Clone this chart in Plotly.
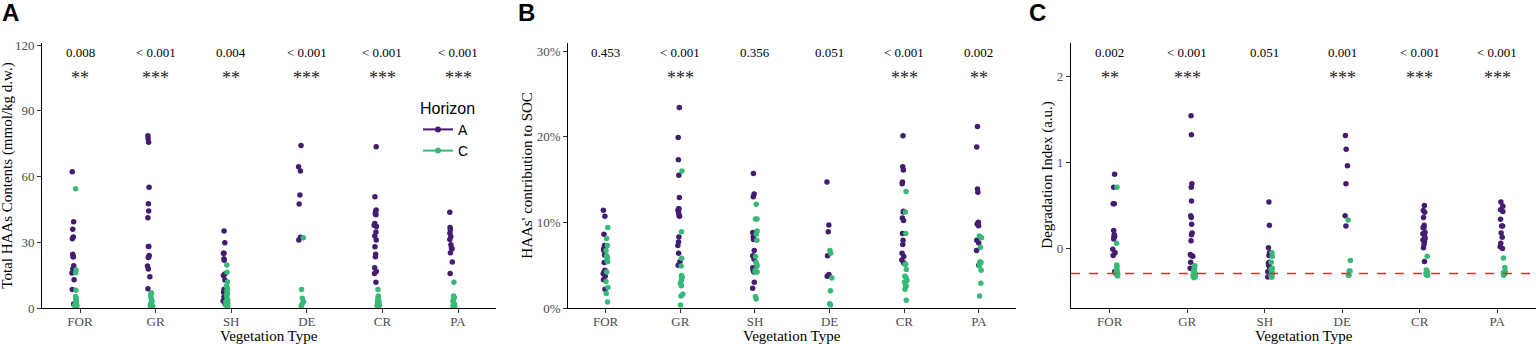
import plotly.graph_objects as go

categories = ["FOR", "GR", "SH", "DE", "CR", "PA"]

# ---------- Panel A: Total HAAs Contents (mmol/kg d.w.) ----------
haa_A_FOR = [62.2, 39.4, 35.9, 32.4, 31.6, 24.5, 23.4, 23.4, 19.3, 17.8, 16.0, 12.9, 8.4, 1.8]
haa_C_FOR = [54.4, 17.3, 16.1, 8.1, 5.2, 4.4, 4.7, 3.7, 3.0, 2.0, 1.2, 0.8, 0.8, 1.1]
haa_A_GR = [77.3, 78.6, 75.6, 55.1, 47.6, 44.3, 41.2, 28.1, 28.1, 24.0, 23.0, 23.4, 19.2, 17.8, 14.3, 8.8]
haa_C_GR = [6.7, 5.9, 6.8, 4.4, 3.7, 2.5, 3.0, 1.8, 0.8, 1.1, 1.4, 0.5]
haa_A_SH = [35.1, 29.8, 25.0, 25.0, 21.8, 22.5, 15.5, 14.8, 12.8, 7.9, 7.2, 8.5, 5.0, 3.7, 3.2, 4.0, 1.8]
haa_C_SH = [19.6, 16.3, 11.9, 10.0, 8.9, 7.9, 6.7, 5.9, 5.5, 4.1, 3.7, 3.0, 2.2, 1.8, 1.2, 1.2, 0.8]
haa_A_DE = [74.2, 64.5, 62.5, 51.6, 47.5, 32.3, 31.0]
haa_C_DE = [32.1, 8.4, 4.4, 3.0, 1.8, 0.9]
haa_A_CR = [73.6, 50.8, 44.7, 42.6, 42.9, 43.8, 38.6, 37.8, 37.2, 34.7, 32.9, 31.0, 28.0, 24.5, 23.4, 18.4, 16.7, 15.8, 11.7]
haa_C_CR = [8.4, 5.5, 4.7, 3.7, 3.0, 2.5, 1.8, 1.5, 0.8, 1.1, 0.8, 0.5]
haa_A_PA = [43.7, 36.7, 35.7, 34.1, 32.6, 31.3, 28.9, 27.0, 27.4, 25.2, 21.0, 15.8]
haa_C_PA = [11.7, 5.5, 4.7, 3.7, 3.0, 1.8, 1.5, 0.9, 0.8]
haa_ticks = [0, 30, 60, 90, 120]
haa_ticklabels = ["0", "30", "60", "90", "120"]
pval_haa = ["0.008", "< 0.001", "0.004", "< 0.001", "< 0.001", "< 0.001"]
stars_haa = ["**", "***", "**", "***", "***", "***"]

# ---------- Panel B: HAAs' contribution to SOC (%) ----------
soc_A_FOR = [11.4, 10.7, 8.6, 7.3, 6.9, 6.7, 6.2, 5.3, 4.4, 4.2, 4.0, 3.7, 3.3, 2.2]
soc_C_FOR = [9.4, 8.1, 7.3, 6.7, 6.1, 5.9, 5.6, 5.4, 4.2, 3.1, 2.4, 1.7, 0.7]
soc_A_GR = [23.4, 19.9, 17.3, 15.5, 12.9, 11.6, 11.6, 11.4, 11.1, 10.8, 10.7, 8.3, 7.7, 7.3, 6.4, 5.4, 5.0]
soc_C_GR = [16.0, 8.9, 5.8, 4.9, 3.8, 3.6, 3.6, 3.2, 2.9, 3.5, 2.6, 1.6, 1.4, 0.35]
soc_A_SH = [15.7, 13.3, 13.0, 8.8, 8.3, 8.0, 6.7, 6.1, 6.0, 6.0, 5.7, 4.7, 4.4, 4.2, 3.0, 2.3]
soc_C_SH = [12.1, 10.4, 10.4, 9.0, 8.6, 7.9, 6.0, 5.3, 5.2, 4.9, 4.4, 4.2, 4.2, 1.3, 1.05]
soc_A_DE = [14.7, 9.7, 8.9, 6.1, 3.7, 3.9]
soc_C_DE = [6.7, 6.4, 3.5, 2.0, 0.5, 0.35]
soc_A_CR = [20.1, 16.5, 16.1, 14.5, 14.7, 11.3, 11.2, 10.5, 10.2, 8.7, 7.9, 7.4, 6.4, 6.0, 5.6, 5.3, 5.2]
soc_C_CR = [13.6, 11.2, 8.7, 5.1, 5.1, 4.5, 3.7, 3.5, 3.2, 3.0, 2.6, 2.2, 2.5, 0.9]
soc_A_PA = [21.2, 18.8, 13.9, 13.5, 10.0, 9.8, 9.6, 7.9, 7.6, 6.7, 5.0]
soc_C_PA = [8.4, 8.2, 7.1, 5.4, 5.3, 5.2, 4.9, 4.4, 2.9, 1.4]
soc_ticks = [0, 10, 20, 30]
soc_ticklabels = ["0%", "10%", "20%", "30%"]
pval_soc = ["0.453", "< 0.001", "0.356", "0.051", "< 0.001", "0.002"]
stars_soc = ["", "***", "", "", "***", "**"]

# ---------- Panel C: Degradation Index (a.u.) ----------
deg_A_FOR = [0.86, 0.71, 0.52, 0.52, 0.21, 0.16, 0.14, 0.11, 0.14, -0.01, -0.05, -0.08, -0.27]
deg_C_FOR = [0.71, 0.06, -0.19, -0.21, -0.24, -0.27, -0.28, -0.27, -0.30, -0.29, -0.32]
deg_A_GR = [1.54, 1.32, 0.75, 0.71, 0.55, 0.36, 0.38, 0.28, 0.16, 0.18, 0.09, -0.07, -0.08, -0.09, -0.16, -0.23]
deg_C_GR = [-0.20, -0.23, -0.25, -0.27, -0.28, -0.29, -0.31, -0.32, -0.34, -0.33]
deg_A_SH = [0.54, 0.27, 0.01, -0.05, -0.08, -0.16, -0.19, -0.17, -0.27, -0.21, -0.33, -0.25, -0.28]
deg_C_SH = [-0.05, -0.09, -0.16, -0.23, -0.24, -0.25, -0.28, -0.29, -0.31, -0.28, -0.31, -0.33, -0.33]
deg_A_DE = [1.31, 1.15, 0.96, 0.75, 0.38, 0.26]
deg_C_DE = [0.33, -0.14, -0.26, -0.26, -0.31, -0.31]
deg_A_CR = [0.50, 0.44, 0.42, 0.36, 0.27, 0.24, 0.24, 0.19, 0.17, 0.15, 0.12, 0.10, 0.08, 0.05, 0.01, -0.15]
deg_C_CR = [-0.09, -0.25, -0.26, -0.28, -0.27, -0.29, -0.30, -0.31, -0.31]
deg_A_PA = [0.54, 0.49, 0.45, 0.43, 0.34, 0.26, 0.26, 0.18, 0.13, 0.02, 0.00, 0.06]
deg_C_PA = [-0.11, -0.22, -0.27, -0.28, -0.29, -0.29, -0.31]
deg_ticks = [0, 1, 2]
deg_ticklabels = ["0", "1", "2"]
pval_deg = ["0.002", "< 0.001", "0.051", "0.001", "< 0.001", "< 0.001"]
stars_deg = ["**", "***", "", "***", "***", "***"]
deg_reference = -0.29

# ---------- styling ----------
W, H = 1536, 344
COL_A = "#441C70"
COL_C = "#38B977"
SERIF = "Liberation Serif"
SANS = "Liberation Sans"


def px_x(p):
    return p / W


def px_y(p):
    return (H - p) / H


panels = [
    dict(series_A=[haa_A_FOR, haa_A_GR, haa_A_SH, haa_A_DE, haa_A_CR, haa_A_PA],
         series_C=[haa_C_FOR, haa_C_GR, haa_C_SH, haa_C_DE, haa_C_CR, haa_C_PA],
         pvals=pval_haa, stars=stars_haa, xdom=(42.2, 495.8), yrange=[0, 120.8],
         tickvals=haa_ticks, ticktext=haa_ticklabels,
         ytitle="Total HAAs Contents (mmol/kg d.w.)", ytitle_x=8, letter="A", letter_x=10),
    dict(series_A=[soc_A_FOR, soc_A_GR, soc_A_SH, soc_A_DE, soc_A_CR, soc_A_PA],
         series_C=[soc_C_FOR, soc_C_GR, soc_C_SH, soc_C_DE, soc_C_CR, soc_C_PA],
         pvals=pval_soc, stars=stars_soc, xdom=(568.3, 1016.3), yrange=[0, 30.9],
         tickvals=soc_ticks, ticktext=soc_ticklabels,
         ytitle="HAAs' contribution to SOC", ytitle_x=527, letter="B", letter_x=526),
    dict(series_A=[deg_A_FOR, deg_A_GR, deg_A_SH, deg_A_DE, deg_A_CR, deg_A_PA],
         series_C=[deg_C_FOR, deg_C_GR, deg_C_SH, deg_C_DE, deg_C_CR, deg_C_PA],
         pvals=pval_deg, stars=stars_deg, xdom=(1071.0, 1536.0), yrange=[-0.69, 2.38],
         tickvals=deg_ticks, ticktext=deg_ticklabels,
         ytitle="Degradation Index (a.u.)", ytitle_x=1048, letter="C", letter_x=1037),
]

fig = go.Figure()
annotations = []
layout_axes = {}
Y_TOP, Y_BOT = 43.3, 308.0


def note(x, xref, y, text, font, **kw):
    d = dict(x=x, xref=xref, y=y, yref="paper", text=text, showarrow=False,
             xanchor="center", yanchor="middle", font=font)
    d.update(kw)
    return d


for i, p in enumerate(panels):
    n = "" if i == 0 else str(i + 1)
    xa, ya = "x" + n, "y" + n
    for horizon, series, col in (("A", p["series_A"], COL_A), ("C", p["series_C"], COL_C)):
        xs, ys = [], []
        for cat, vals in zip(categories, series):
            xs += [cat] * len(vals)
            ys += vals
        fig.add_trace(go.Box(
            x=xs, y=ys, name=horizon, xaxis=xa, yaxis=ya,
            boxpoints="all", jitter=1.0, pointpos=0,
            fillcolor="rgba(0,0,0,0)", line=dict(width=0, color="rgba(0,0,0,0)"),
            whiskerwidth=0, showlegend=False, hoveron="points",
            marker=dict(color=col, size=5.5, line=dict(width=0)),
        ))
    layout_axes["xaxis" + n] = dict(
        domain=[px_x(p["xdom"][0]), px_x(p["xdom"][1])], anchor=ya,
        type="category", categoryorder="array", categoryarray=categories,
        range=[-0.5, 5.5], showline=True, linecolor="black", linewidth=1.3,
        ticks="outside", ticklen=4, tickwidth=1, tickcolor="#333333",
        ticklabelstandoff=-3,
        showgrid=False, zeroline=False, automargin=False,
        tickfont=dict(family=SERIF, size=13, color="#4D4D4D"),
    )
    layout_axes["yaxis" + n] = dict(
        domain=[px_y(Y_BOT), px_y(Y_TOP)], anchor=xa, range=p["yrange"],
        tickmode="array", tickvals=p["tickvals"], ticktext=p["ticktext"],
        showline=True, linecolor="black", linewidth=1.3,
        ticks="outside", ticklen=4, tickwidth=1, tickcolor="#333333",
        showgrid=False, zeroline=False, automargin=False,
        tickfont=dict(family=SERIF, size=13, color="#4D4D4D"),
    )
    for cat, pv, st in zip(categories, p["pvals"], p["stars"]):
        annotations.append(note(cat, xa, px_y(52), pv,
                                dict(family=SERIF, size=13, color="black")))
        if st:
            annotations.append(note(cat, xa, px_y(78), st,
                                    dict(family=SERIF, size=18, color="#222222")))
    cx = (p["xdom"][0] + p["xdom"][1]) / 2
    annotations.append(note(px_x(cx), "paper", px_y(336), "Vegetation Type",
                            dict(family=SERIF, size=15, color="black")))
    annotations.append(note(px_x(p["ytitle_x"]), "paper", px_y((Y_TOP + Y_BOT) / 2),
                            p["ytitle"], dict(family=SERIF, size=15, color="black"),
                            textangle=-90))
    annotations.append(note(px_x(p["letter_x"]), "paper", px_y(12.5), "<b>%s</b>" % p["letter"],
                            dict(family=SANS, size=24, color="black")))

# legend entries
for horizon, col in (("A", COL_A), ("C", COL_C)):
    fig.add_trace(go.Scatter(x=[None], y=[None], name=horizon, mode="lines+markers",
                             line=dict(color=col, width=2), marker=dict(color=col, size=6),
                             xaxis="x", yaxis="y", showlegend=True))

fig.add_shape(type="line", xref="x3 domain", yref="y3", x0=0, x1=1,
              y0=deg_reference, y1=deg_reference,
              line=dict(color="#FF1F2F", width=1.5, dash="dash"))

fig.update_layout(
    width=W, height=H, margin=dict(l=0, r=0, t=0, b=0),
    plot_bgcolor="white", paper_bgcolor="white",
    boxmode="group", boxgap=0.78, boxgroupgap=0.0,
    annotations=annotations,
    showlegend=True,
    legend=dict(x=px_x(418), y=px_y(93), xanchor="left", yanchor="top",
                bgcolor="rgba(0,0,0,0)", borderwidth=0,
                title=dict(text="Horizon", font=dict(family=SANS, size=16, color="black")),
                font=dict(family=SANS, size=14, color="black"),
                itemwidth=30, tracegroupgap=0),
    **layout_axes,
)

fig.write_html("out.html", config={"displayModeBar": False},
               post_script="document.body.style.margin='0px';")
